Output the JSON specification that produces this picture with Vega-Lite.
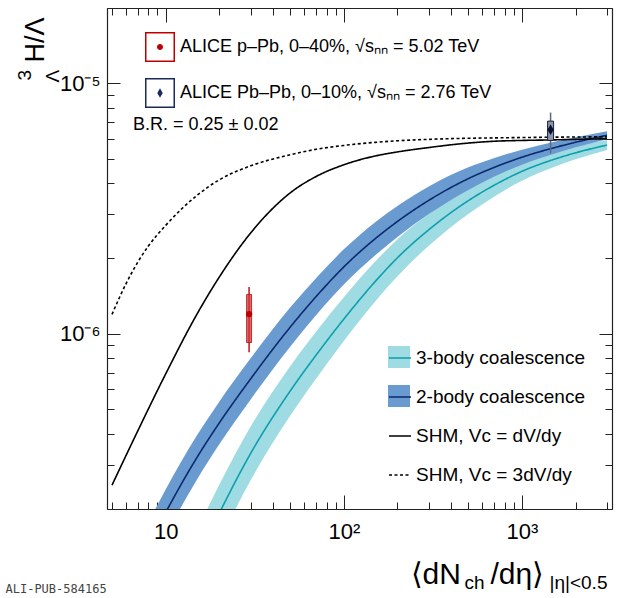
{
  "$schema": "https://vega.github.io/schema/vega-lite/v6.json",
  "width": 505,
  "height": 501,
  "autosize": {"type": "none"},
  "padding": {"left": 107, "top": 8, "right": 8, "bottom": 89},
  "background": "white",
  "datasets": {
    "curves": [
      {"model": "3-body coalescence", "x": 15, "y": 1.253e-7, "lo": 9.55e-8, "hi": 1.644e-7},
      {"model": "3-body coalescence", "x": 20, "y": 1.923e-7, "lo": 1.479e-7, "hi": 2.500e-7},
      {"model": "3-body coalescence", "x": 30, "y": 3.334e-7, "lo": 2.606e-7, "hi": 4.266e-7},
      {"model": "3-body coalescence", "x": 50, "y": 5.916e-7, "lo": 4.710e-7, "hi": 7.430e-7},
      {"model": "3-body coalescence", "x": 70, "y": 8.241e-7, "lo": 6.637e-7, "hi": 1.023e-6},
      {"model": "3-body coalescence", "x": 100, "y": 1.146e-6, "lo": 9.376e-7, "hi": 1.400e-6},
      {"model": "3-body coalescence", "x": 150, "y": 1.618e-6, "lo": 1.346e-6, "hi": 1.945e-6},
      {"model": "3-body coalescence", "x": 200, "y": 2.014e-6, "lo": 1.698e-6, "hi": 2.388e-6},
      {"model": "3-body coalescence", "x": 300, "y": 2.606e-6, "lo": 2.249e-6, "hi": 3.020e-6},
      {"model": "3-body coalescence", "x": 500, "y": 3.404e-6, "lo": 3.013e-6, "hi": 3.846e-6},
      {"model": "3-body coalescence", "x": 700, "y": 3.926e-6, "lo": 3.540e-6, "hi": 4.355e-6},
      {"model": "3-body coalescence", "x": 1000, "y": 4.457e-6, "lo": 4.083e-6, "hi": 4.864e-6},
      {"model": "3-body coalescence", "x": 1500, "y": 4.966e-6, "lo": 4.624e-6, "hi": 5.333e-6},
      {"model": "3-body coalescence", "x": 2000, "y": 5.284e-6, "lo": 4.977e-6, "hi": 5.610e-6},
      {"model": "3-body coalescence", "x": 3000, "y": 5.675e-6, "lo": 5.420e-6, "hi": 5.943e-6},
      {"model": "2-body coalescence", "x": 7, "y": 1.175e-7, "lo": 9.44e-8, "hi": 1.462e-7},
      {"model": "2-body coalescence", "x": 10, "y": 1.936e-7, "lo": 1.567e-7, "hi": 2.393e-7},
      {"model": "2-body coalescence", "x": 15, "y": 3.214e-7, "lo": 2.624e-7, "hi": 3.936e-7},
      {"model": "2-body coalescence", "x": 20, "y": 4.411e-7, "lo": 3.627e-7, "hi": 5.364e-7},
      {"model": "2-body coalescence", "x": 30, "y": 6.615e-7, "lo": 5.477e-7, "hi": 7.990e-7},
      {"model": "2-body coalescence", "x": 50, "y": 1.064e-6, "lo": 8.89e-7, "hi": 1.274e-6},
      {"model": "2-body coalescence", "x": 70, "y": 1.411e-6, "lo": 1.190e-6, "hi": 1.673e-6},
      {"model": "2-body coalescence", "x": 100, "y": 1.851e-6, "lo": 1.575e-6, "hi": 2.175e-6},
      {"model": "2-body coalescence", "x": 150, "y": 2.399e-6, "lo": 2.061e-6, "hi": 2.793e-6},
      {"model": "2-body coalescence", "x": 200, "y": 2.811e-6, "lo": 2.437e-6, "hi": 3.242e-6},
      {"model": "2-body coalescence", "x": 300, "y": 3.414e-6, "lo": 3.008e-6, "hi": 3.875e-6},
      {"model": "2-body coalescence", "x": 500, "y": 4.168e-6, "lo": 3.758e-6, "hi": 4.623e-6},
      {"model": "2-body coalescence", "x": 700, "y": 4.626e-6, "lo": 4.248e-6, "hi": 5.036e-6},
      {"model": "2-body coalescence", "x": 1000, "y": 5.075e-6, "lo": 4.737e-6, "hi": 5.439e-6},
      {"model": "2-body coalescence", "x": 1500, "y": 5.527e-6, "lo": 5.230e-6, "hi": 5.841e-6},
      {"model": "2-body coalescence", "x": 2000, "y": 5.821e-6, "lo": 5.559e-6, "hi": 6.095e-6},
      {"model": "2-body coalescence", "x": 3000, "y": 6.211e-6, "lo": 5.987e-6, "hi": 6.444e-6},
      {"model": "SHM, Vc = dV/dy", "x": 5, "y": 2.49e-7},
      {"model": "SHM, Vc = dV/dy", "x": 7, "y": 4.121e-7},
      {"model": "SHM, Vc = dV/dy", "x": 10, "y": 6.918e-7},
      {"model": "SHM, Vc = dV/dy", "x": 15, "y": 1.200e-6},
      {"model": "SHM, Vc = dV/dy", "x": 20, "y": 1.686e-6},
      {"model": "SHM, Vc = dV/dy", "x": 30, "y": 2.528e-6},
      {"model": "SHM, Vc = dV/dy", "x": 50, "y": 3.655e-6},
      {"model": "SHM, Vc = dV/dy", "x": 70, "y": 4.252e-6},
      {"model": "SHM, Vc = dV/dy", "x": 100, "y": 4.733e-6},
      {"model": "SHM, Vc = dV/dy", "x": 150, "y": 5.132e-6},
      {"model": "SHM, Vc = dV/dy", "x": 200, "y": 5.327e-6},
      {"model": "SHM, Vc = dV/dy", "x": 300, "y": 5.547e-6},
      {"model": "SHM, Vc = dV/dy", "x": 500, "y": 5.779e-6},
      {"model": "SHM, Vc = dV/dy", "x": 700, "y": 5.877e-6},
      {"model": "SHM, Vc = dV/dy", "x": 1000, "y": 5.92e-6},
      {"model": "SHM, Vc = dV/dy", "x": 1500, "y": 5.95e-6},
      {"model": "SHM, Vc = dV/dy", "x": 2000, "y": 5.98e-6},
      {"model": "SHM, Vc = dV/dy", "x": 3000, "y": 6.01e-6},
      {"model": "SHM, Vc = 3dV/dy", "x": 5, "y": 1.197e-6},
      {"model": "SHM, Vc = 3dV/dy", "x": 6, "y": 1.589e-6},
      {"model": "SHM, Vc = 3dV/dy", "x": 7, "y": 1.941e-6},
      {"model": "SHM, Vc = 3dV/dy", "x": 8, "y": 2.242e-6},
      {"model": "SHM, Vc = 3dV/dy", "x": 10, "y": 2.710e-6},
      {"model": "SHM, Vc = 3dV/dy", "x": 15, "y": 3.573e-6},
      {"model": "SHM, Vc = 3dV/dy", "x": 20, "y": 4.121e-6},
      {"model": "SHM, Vc = 3dV/dy", "x": 30, "y": 4.688e-6},
      {"model": "SHM, Vc = 3dV/dy", "x": 50, "y": 5.188e-6},
      {"model": "SHM, Vc = 3dV/dy", "x": 70, "y": 5.458e-6},
      {"model": "SHM, Vc = 3dV/dy", "x": 100, "y": 5.655e-6},
      {"model": "SHM, Vc = 3dV/dy", "x": 150, "y": 5.817e-6},
      {"model": "SHM, Vc = 3dV/dy", "x": 200, "y": 5.902e-6},
      {"model": "SHM, Vc = 3dV/dy", "x": 300, "y": 5.98e-6},
      {"model": "SHM, Vc = 3dV/dy", "x": 500, "y": 6.04e-6},
      {"model": "SHM, Vc = 3dV/dy", "x": 700, "y": 6.06e-6},
      {"model": "SHM, Vc = 3dV/dy", "x": 1000, "y": 6.08e-6},
      {"model": "SHM, Vc = 3dV/dy", "x": 1500, "y": 6.10e-6},
      {"model": "SHM, Vc = 3dV/dy", "x": 2000, "y": 6.11e-6},
      {"model": "SHM, Vc = 3dV/dy", "x": 3000, "y": 6.12e-6}
    ],
    "points": [
      {"series": "ALICE p–Pb, 0–40%, √sₙₙ = 5.02 TeV", "x": 29.4, "y": 1.20e-6, "statlo": 8.44e-7, "stathi": 1.54e-6, "syslo": 9.24e-7, "syshi": 1.437e-6},
      {"series": "ALICE Pb–Pb, 0–10%, √sₙₙ = 2.76 TeV", "x": 1447, "y": 6.53e-6, "statlo": 5.26e-6, "stathi": 7.65e-6, "syslo": 5.92e-6, "syshi": 7.07e-6}
    ]
  },
  "layer": [
    {
      "data": {"name": "curves"},
      "transform": [{"filter": {"field": "model", "oneOf": ["3-body coalescence", "2-body coalescence"]}}],
      "mark": {"type": "area", "clip": true, "opacity": 1, "interpolate": "monotone"},
      "encoding": {
        "x": {"field": "x", "type": "quantitative", "scale": {"type": "log", "domain": [5, 3000], "nice": false},
          "axis": {"orient": "bottom", "values": [10, 100, 1000], "labelExpr": "datum.value == 10 ? '10' : datum.value == 100 ? '10²' : '10³'",
            "tickSize": -14, "labelPadding": 26, "labelFontSize": 22, "domain": true, "domainWidth": 1.2,
            "title": "⟨dN", "titleFontSize": 30, "titleX": 303, "titleY": 74, "titleAlign": "left", "titleBaseline": "alphabetic"}},
        "y": {"field": "lo", "type": "quantitative", "scale": {"type": "log", "domain": [2e-7, 2e-5], "nice": false},
          "axis": {"orient": "left", "values": [1e-6, 1e-5], "labelExpr": "datum.value < 3e-6 ? '10⁻⁶' : '10⁻⁵'",
            "tickSize": -13, "labelPadding": 20, "labelFontSize": 22, "domain": true, "domainWidth": 1.2,
            "title": "H/Λ", "titleFontSize": 27, "titleAngle": 270, "titleX": -64, "titleY": 54, "titleAlign": "left", "titleBaseline": "alphabetic"}},
        "y2": {"field": "hi"},
        "fill": {"field": "model", "type": "nominal",
          "scale": {"domain": ["3-body coalescence", "2-body coalescence"], "range": ["#9fdbe2", "#6a9bd0"]},
          "legend": {"orient": "none", "legendX": 281, "legendY": 338, "title": null, "direction": "vertical", "symbolType": "square", "symbolSize": 484, "symbolStrokeWidth": 0, "rowPadding": 17, "labelFontSize": 19, "labelOffset": 4, "labelExpr": "''", "labelLimit": 500, "padding": 0}}
      }
    },
    {
      "data": {"name": "curves"},
      "mark": {"type": "line", "clip": true, "strokeWidth": 1.6, "interpolate": "monotone"},
      "encoding": {
        "x": {"field": "x", "type": "quantitative",
          "axis": {"orient": "bottom", "values": [5, 6, 7, 8, 9, 20, 30, 40, 50, 60, 70, 80, 90, 200, 300, 400, 500, 600, 700, 800, 900, 2000, 3000],
            "labels": false, "tickSize": -7, "domain": false,
            "title": "/dη⟩", "titleFontSize": 30, "titleX": 383, "titleY": 74, "titleAlign": "left", "titleBaseline": "alphabetic"}},
        "y": {"field": "y", "type": "quantitative",
          "axis": {"orient": "left", "values": [2e-7, 3e-7, 4e-7, 5e-7, 6e-7, 7e-7, 8e-7, 9e-7, 2e-6, 3e-6, 4e-6, 5e-6, 6e-6, 7e-6, 8e-6, 9e-6, 2e-5],
            "labels": false, "tickSize": -7, "domain": false,
            "title": "3", "titleFontSize": 19, "titleAngle": 270, "titleX": -77, "titleY": 72, "titleAlign": "left", "titleBaseline": "alphabetic"}},
        "stroke": {"field": "model", "type": "nominal",
          "scale": {"domain": ["3-body coalescence", "2-body coalescence", "SHM, Vc = dV/dy", "SHM, Vc = 3dV/dy"], "range": ["#0e9fad", "#0b2a6e", "#000000", "#000000"]},
          "legend": {"orient": "none", "legendX": 281, "legendY": 338, "title": null, "direction": "vertical", "symbolType": "stroke", "symbolSize": 484, "symbolStrokeWidth": 1.6, "rowPadding": 17, "labelFontSize": 19, "labelOffset": 4, "labelLimit": 500, "padding": 0}},
        "strokeDash": {"field": "model", "type": "nominal",
          "scale": {"domain": ["3-body coalescence", "2-body coalescence", "SHM, Vc = dV/dy", "SHM, Vc = 3dV/dy"], "range": [[1, 0], [1, 0], [1, 0], [3, 2.5]]},
          "legend": {"orient": "none", "legendX": 281, "legendY": 338, "title": null, "direction": "vertical", "symbolType": "stroke", "symbolSize": 484, "symbolStrokeWidth": 1.6, "rowPadding": 17, "labelFontSize": 19, "labelOffset": 4, "labelLimit": 500, "padding": 0}}
      }
    },
    {
      "data": {"name": "points"},
      "transform": [{"filter": {"field": "x", "lt": 100}}],
      "mark": {"type": "rule", "color": "#c0141e", "strokeWidth": 1.5},
      "encoding": {
        "x": {"field": "x", "type": "quantitative",
          "axis": {"orient": "top", "values": [10, 100, 1000], "labels": false, "tickSize": -14, "domain": true, "domainWidth": 1.2,
            "title": "ch", "titleFontSize": 19, "titleX": 357, "titleY": 580, "titleAlign": "left", "titleBaseline": "alphabetic"}},
        "y": {"field": "statlo", "type": "quantitative",
          "axis": {"orient": "right", "values": [1e-6, 1e-5], "labels": false, "tickSize": -13, "domain": true, "domainWidth": 1.2,
            "title": "Λ", "titleFontSize": 19, "titleAngle": 270, "titleX": -554, "titleY": 74, "titleAlign": "left", "titleBaseline": "alphabetic"}},
        "y2": {"field": "stathi"}
      }
    },
    {
      "data": {"name": "points"},
      "transform": [{"filter": {"field": "x", "lt": 100}}],
      "mark": {"type": "bar", "width": 5, "fill": "#cf3a3a", "fillOpacity": 0.75, "stroke": "#b01010", "strokeWidth": 0.8},
      "encoding": {
        "x": {"field": "x", "type": "quantitative",
          "axis": {"orient": "top", "values": [5, 6, 7, 8, 9, 20, 30, 40, 50, 60, 70, 80, 90, 200, 300, 400, 500, 600, 700, 800, 900, 2000, 3000],
            "labels": false, "tickSize": -7, "domain": false,
            "title": "|η|<0.5", "titleFontSize": 19, "titleX": 442, "titleY": 580, "titleAlign": "left", "titleBaseline": "alphabetic"}},
        "y": {"field": "syslo", "type": "quantitative",
          "axis": {"orient": "right", "values": [2e-7, 3e-7, 4e-7, 5e-7, 6e-7, 7e-7, 8e-7, 9e-7, 2e-6, 3e-6, 4e-6, 5e-6, 6e-6, 7e-6, 8e-6, 9e-6, 2e-5],
            "labels": false, "tickSize": -7, "domain": false,
            "title": "ALI-PUB-584165", "titleFont": "DejaVu Sans Mono", "titleFontSize": 12, "titleColor": "#444", "titleAngle": 0, "titleX": -607, "titleY": 584, "titleAlign": "left", "titleBaseline": "alphabetic"}},
        "y2": {"field": "syshi"}
      }
    },
    {
      "data": {"name": "points"},
      "transform": [{"filter": {"field": "x", "lt": 100}}],
      "mark": {"type": "point", "shape": "circle", "filled": true, "size": 40, "color": "#c00000", "opacity": 1},
      "encoding": {
        "x": {"field": "x", "type": "quantitative", "axis": null},
        "y": {"field": "y", "type": "quantitative", "axis": null}
      }
    },
    {
      "data": {"name": "points"},
      "transform": [{"filter": {"field": "x", "gt": 100}}],
      "mark": {"type": "rule", "color": "#5f6878", "strokeWidth": 1.5},
      "encoding": {
        "x": {"field": "x", "type": "quantitative", "axis": null},
        "y": {"field": "statlo", "type": "quantitative", "axis": null},
        "y2": {"field": "stathi"}
      }
    },
    {
      "data": {"name": "points"},
      "transform": [{"filter": {"field": "x", "gt": 100}}],
      "mark": {"type": "bar", "width": 6, "fill": "#8a95a8", "stroke": "#1a2040", "strokeWidth": 1},
      "encoding": {
        "x": {"field": "x", "type": "quantitative", "axis": null},
        "y": {"field": "syslo", "type": "quantitative", "axis": null},
        "y2": {"field": "syshi"}
      }
    },
    {
      "data": {"name": "points"},
      "transform": [{"filter": {"field": "x", "gt": 100}}],
      "mark": {"type": "point", "shape": "M0,-1L0.6,0L0,1L-0.6,0Z", "filled": true, "size": 110, "color": "#0a1030", "opacity": 1},
      "encoding": {
        "x": {"field": "x", "type": "quantitative", "axis": null},
        "y": {"field": "y", "type": "quantitative", "axis": null}
      }
    },
    {
      "data": {"name": "points"},
      "transform": [{"filter": "false"}],
      "mark": {"type": "point", "filled": true, "opacity": 1},
      "encoding": {
        "color": {"field": "series", "type": "nominal",
          "scale": {"domain": ["ALICE p–Pb, 0–40%, √sₙₙ = 5.02 TeV", "ALICE Pb–Pb, 0–10%, √sₙₙ = 2.76 TeV"], "range": ["#c00000", "#1a2a5a"]},
          "legend": {"orient": "none", "legendX": 26, "legendY": 24, "title": "B.R. = 0.25 ± 0.02", "titleOrient": "bottom", "titleAnchor": "start", "titleFontSize": 18, "titleFontWeight": "normal", "titlePadding": 8, "direction": "vertical", "symbolSize": 900, "symbolOffset": 12, "symbolStrokeWidth": 0, "symbolOpacity": 1, "rowPadding": 16, "labelFontSize": 18, "labelOffset": 5, "labelLimit": 500, "padding": 0}},
        "shape": {"field": "series", "type": "nominal",
          "scale": {"domain": ["ALICE p–Pb, 0–40%, √sₙₙ = 5.02 TeV", "ALICE Pb–Pb, 0–10%, √sₙₙ = 2.76 TeV"],
            "range": ["M-1,-1L1,-1L1,1L-1,1Z M-0.9,-0.9L-0.9,0.9L0.9,0.9L0.9,-0.9Z M0.2,0A0.2,0.2 0 1,1 -0.2,0A0.2,0.2 0 1,1 0.2,0Z",
                      "M-1,-1L1,-1L1,1L-1,1Z M-0.9,-0.9L-0.9,0.9L0.9,0.9L0.9,-0.9Z M0,-0.32L0.18,0L0,0.32L-0.18,0Z"]},
          "legend": {"orient": "none", "legendX": 26, "legendY": 24, "title": "B.R. = 0.25 ± 0.02", "titleOrient": "bottom", "titleAnchor": "start", "titleFontSize": 18, "titleFontWeight": "normal", "titlePadding": 8, "direction": "vertical", "symbolSize": 900, "symbolOffset": 12, "symbolStrokeWidth": 0, "symbolOpacity": 1, "rowPadding": 16, "labelFontSize": 18, "labelOffset": 5, "labelLimit": 500, "padding": 0}}
      }
    }
  ],
  "resolve": {"axis": {"x": "independent", "y": "independent"}},
  "config": {
    "font": "Liberation Sans",
    "view": {"stroke": null},
    "axis": {"grid": false, "tickColor": "#222", "domainColor": "#222", "labelColor": "#000", "titleColor": "#000", "titleFontWeight": "normal",
      "labelFont": "Liberation Sans", "titleFont": "Liberation Sans", "zindex": 1, "labelFlush": false, "labelOverlap": false, "tickWidth": 1},
    "legend": {"labelColor": "#000", "labelFont": "Liberation Sans", "titleColor": "#000", "titleFont": "Liberation Sans"}
  }
}
